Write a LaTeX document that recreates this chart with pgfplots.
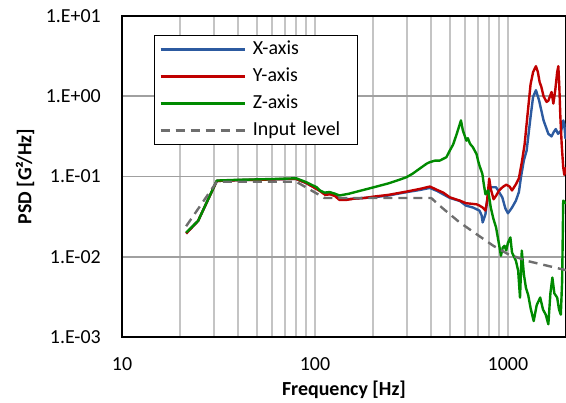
\documentclass[border=0pt]{standalone}
\usepackage{fontspec}
\setmainfont{Carlito}
\usepackage{pgfplots}
\pgfplotsset{compat=1.18}
\definecolor{xblue}{HTML}{2C5AA0}
\definecolor{yred}{HTML}{C00000}
\definecolor{zgreen}{HTML}{008A00}
\definecolor{inpgray}{HTML}{6E6E6E}
\definecolor{hgrid}{HTML}{A0A0A0}
\definecolor{vgrid}{HTML}{C4C4C4}
\newcommand{\lbl}{\fontsize{20}{24}\selectfont}
\begin{document}
\begin{tikzpicture}
\begin{axis}[
  name=psd,
  xmode=log, ymode=log,
  scale only axis, width=444bp, height=321bp,
  xmin=10, xmax=2000, ymin=1e-3, ymax=10,
  xtick={10,100,1000}, xticklabels={10,100,1000},
  minor xtick={20,30,40,50,60,70,80,90,200,300,400,500,600,700,800,900,2000},
  ytick={1e-3,1e-2,1e-1,1,10},
  yticklabels={1.E-03,1.E-02,1.E-01,1.E+00,1.E+01},
  major tick length=0pt, minor tick length=0pt,
  xmajorgrids, xminorgrids, ymajorgrids,
  x grid style={draw=vgrid, line width=1.6bp},
  y grid style={draw=hgrid, line width=1.6bp},
  axis line style={black, line width=1.6bp},
  tick label style={font=\lbl, inner sep=0pt},
  xticklabel shift=20bp, yticklabel shift=21bp,
  xlabel={\bfseries Frequency [Hz]},
  ylabel={\bfseries PSD [G²/Hz]},
  every axis x label/.style={at={(rel axis cs:0.5,0)}, yshift=-53bp, anchor=center, font=\lbl},
  every axis y label/.style={at={(rel axis cs:0,0.5)}, xshift=-97bp, rotate=90, anchor=center, font=\lbl},
  legend image code/.code={\path (0bp,0bp) -- (15bp,0bp); \draw[#1] (15bp,0bp) -- (84bp,0bp);},
  legend cell align=left,
  legend style={at={(axis description cs:0.072,0.941)}, anchor=north west,
    draw=black, line width=1bp, fill=white, inner sep=5bp, row sep=9bp, column sep=7bp,
    font=\lbl, nodes={inner sep=0pt, text height=14bp, text depth=4bp, text width=100bp}},
  every axis plot/.append style={line width=2.4bp, line join=round},
]
\addplot[xblue] coordinates {
(21.5,0.0195) (24.8,0.028) (31,0.088) (40,0.090) (50,0.091) (60,0.092) (70,0.093) (80,0.093)
(90,0.083) (100,0.072) (107,0.066) (113,0.060) (120,0.061) (127,0.058) (134,0.053) (145,0.052)
(160,0.053) (180,0.054) (200,0.055) (240,0.058) (300,0.064) (350,0.068) (394,0.072) (430,0.066)
(462,0.060) (500,0.054) (564,0.0495) (606,0.0434) (660,0.041) (712,0.0376) (730,0.033) (740,0.0268)
(765,0.034) (785,0.055) (800,0.0735) (868,0.0735) (935,0.055) (970,0.040) (1000,0.0348) (1050,0.041)
(1100,0.050) (1140,0.064) (1170,0.10) (1210,0.16) (1250,0.21) (1310,0.55) (1350,0.98) (1397,1.19)
(1450,0.89) (1530,0.5) (1620,0.34) (1683,0.316) (1730,0.36) (1770,0.39) (1820,0.34) (1890,0.376)
(1935,0.5) (1960,0.45) (1985,0.3) (2000,0.35)};
\addlegendentry{X-axis}
\addplot[yred] coordinates {
(21.5,0.0195) (24.8,0.028) (31,0.088) (40,0.090) (50,0.091) (60,0.092) (70,0.093) (80,0.093)
(90,0.083) (100,0.072) (107,0.065) (113,0.059) (120,0.060) (127,0.057) (134,0.051) (145,0.051)
(160,0.053) (180,0.054) (200,0.056) (240,0.059) (300,0.065) (350,0.070) (394,0.075) (430,0.068)
(462,0.063) (500,0.055) (564,0.050) (606,0.0465) (688,0.0450) (712,0.0434) (740,0.041) (765,0.0376)
(780,0.050) (800,0.094) (815,0.070) (843,0.052) (870,0.058) (900,0.067) (940,0.074) (980,0.079)
(1020,0.075) (1050,0.067) (1100,0.080) (1140,0.095) (1180,0.15) (1220,0.25) (1260,0.55) (1310,1.4)
(1350,2.0) (1397,2.37) (1430,2.0) (1460,1.5) (1490,1.31) (1530,1.0) (1586,0.85) (1620,0.88)
(1683,1.13) (1720,0.81) (1760,1.2) (1800,2.0) (1825,2.37) (1845,1.4) (1870,0.55) (1900,0.25)
(1935,0.13) (1960,0.105) (2000,0.13)};
\addlegendentry{Y-axis}
\addplot[zgreen] coordinates {
(21.5,0.020) (24.8,0.028) (31,0.089) (40,0.091) (50,0.092) (60,0.093) (70,0.094) (80,0.095)
(90,0.085) (102,0.0735) (106,0.067) (112,0.063) (119,0.064) (127,0.061) (134,0.058) (150,0.061)
(170,0.066) (200,0.073) (240,0.082) (270,0.090) (298,0.098) (320,0.108) (350,0.126) (380,0.145)
(394,0.151) (420,0.158) (444,0.158) (462,0.166) (480,0.174) (500,0.211) (520,0.25) (543,0.34)
(560,0.43) (571,0.50) (584,0.376) (609,0.28) (620,0.30) (636,0.256) (658,0.232) (688,0.19)
(700,0.158) (712,0.137) (737,0.108) (750,0.08) (765,0.060) (790,0.067) (815,0.041) (840,0.030)
(868,0.0232) (900,0.0141) (920,0.0103) (940,0.013) (960,0.0137) (980,0.012) (1000,0.0149) (1030,0.0174)
(1050,0.0113) (1100,0.0089) (1130,0.0067) (1155,0.0031) (1180,0.0119) (1210,0.006) (1240,0.0041)
(1275,0.0033) (1310,0.0023) (1360,0.00158) (1410,0.0025) (1470,0.0031) (1520,0.0022) (1570,0.0019)
(1620,0.00144) (1660,0.0035) (1700,0.0055) (1740,0.0035) (1800,0.0031) (1840,0.0022) (1880,0.0019)
(1910,0.005) (1935,0.050) (2000,0.046)};
\addlegendentry{Z-axis}
\addplot[inpgray, dash pattern=on 9bp off 6bp] coordinates {
(21.5,0.024) (31,0.086) (80,0.086) (112,0.054) (400,0.054) (460,0.040) (560,0.027) (690,0.019)
(840,0.0137) (1000,0.0108) (1250,0.0089) (2000,0.0068)};
\addlegendentry{Input level}
\end{axis}
\pgfresetboundingbox
\path[use as bounding box] ([shift={(-122bp,-66bp)}]psd.south west) rectangle ([shift={(0bp,16bp)}]psd.north east);
\end{tikzpicture}
\end{document}
